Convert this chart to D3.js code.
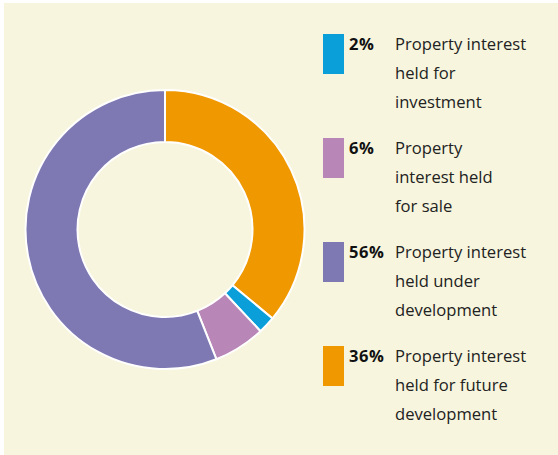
<!DOCTYPE html>
<html>
<head>
<meta charset="utf-8">
<script src="https://cdn.jsdelivr.net/npm/d3@7"></script>
<style>
  body { margin: 0; background: #fff; }
</style>
</head>
<body>
<div id="app"></div>
<script>
var w = 558;
var h = 455;

// data
const labels = [
    ["Property interest", "held for", "investment"],
    ["Property", "interest held", "for sale"],
    ["Property interest", "held under", "development"],
    ["Property interest", "held for future", "development"]
];
const shares = [2, 6, 56, 36];
const colors = ["#0b9fda", "#b887b7", "#7e78b3", "#f09800"];

// pie order: orange first from 12 o'clock, then blue, pink, purple
const pieOrder = [3, 0, 1, 2];

const svg = d3.select("#app")
    .append("svg")
    .attr("width", w)
    .attr("height", h)

svg.append("rect")
    .attr("x", 4)
    .attr("y", 3)
    .attr("width", w - 4)
    .attr("height", h - 3)
    .attr("fill", "#f7f5dd")

const pie = d3.pie()
    .sort(null)
    .value(i => shares[i]);

const arc = d3.arc()
    .innerRadius(87.5)
    .outerRadius(139.5);

const donut = svg.append("g")
    .attr("transform", "translate(165,229.5)")

donut.selectAll("path")
    .data(pie(pieOrder))
    .enter()
    .append("path")
    .attr("d", arc)
    .attr("fill", d => colors[d.data])
    .attr("stroke", "#fff")
    .attr("stroke-width", 2)

const yItem = d3.scaleLinear()
    .domain([0, 3])
    .range([34, 346]);

const legend = svg.append("g")
    .attr("id", "legend")

const item = legend.selectAll(".item")
    .data(shares)
    .enter()
    .append("g")
    .attr("class", "item")
    .attr("transform", (d, i) => "translate(323," + yItem(i) + ")")

item.append("rect")
    .attr("width", 21)
    .attr("height", 40)
    .attr("fill", (d, i) => colors[i])

item.append("text")
    .attr("x", 26)
    .attr("y", 15.5)
    .style("font-family", "'Open Sans', sans-serif")
    .style("font-size", "16.5px")
    .style("font-weight", "bold")
    .style("letter-spacing", "0.6px")
    .attr("fill", "#111")
    .text(d => d + "%")

item.append("text")
    .attr("x", 72)
    .attr("y", 15.5)
    .style("font-family", "'Open Sans', sans-serif")
    .style("font-size", "16.6px")
    .attr("fill", "#222")
    .selectAll("tspan")
    .data((d, i) => labels[i])
    .enter()
    .append("tspan")
    .attr("x", 72)
    .attr("dy", (d, j) => j ? 29 : 0)
    .text(d => d)
</script>
</body>
</html>
